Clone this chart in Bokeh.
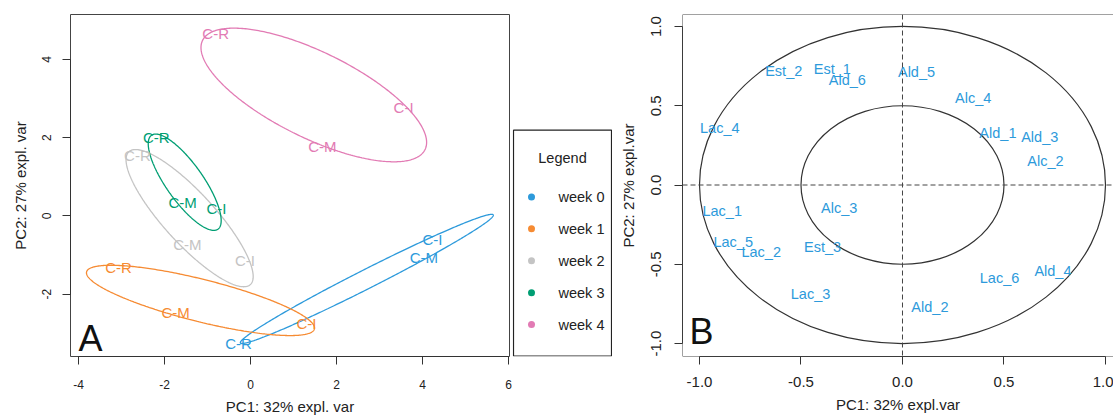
import numpy as np
from bokeh.plotting import figure
from bokeh.layouts import row
from bokeh.models import Range1d, Span, Label, ColumnDataSource, FixedTicker
from bokeh.core.properties import value
from bokeh.embed import file_html
from bokeh.resources import INLINE

FONT = "Liberation Sans"

# ---------------- Panel A data (sample scores) ----------------
weeks = ["week 0", "week 1", "week 2", "week 3", "week 4"]
week_colors = ["#2D9ADB", "#F68B33", "#C4C4C4", "#009E73", "#E27BB4"]

sample_week = [0, 0, 0, 1, 1, 1, 2, 2, 2, 3, 3, 3, 4, 4, 4]
sample_label = ["C-R", "C-I", "C-M", "C-R", "C-M", "C-I", "C-R", "C-M", "C-I",
                "C-R", "C-M", "C-I", "C-R", "C-I", "C-M"]
sample_pc1 = [-0.28, 4.23, 4.03, -3.07, -1.74, 1.30, -2.63, -1.47, -0.13,
              -2.19, -1.58, -0.79, -0.81, 3.56, 1.67]
sample_pc2 = [-3.26, -0.59, -1.07, -1.32, -2.47, -2.74, 1.55, -0.74, -1.15,
              2.01, 0.33, 0.18, 4.66, 2.78, 1.78]

# confidence ellipses per week: centre and two conjugate semi-axis vectors
ell_cx = [2.705, -1.163, -1.416, -1.530, 1.472]
ell_cy = [-1.610, -2.159, -0.057, 0.861, 3.090]
ell_ax = [2.940, 2.649, 1.412, 0.772, 2.586]
ell_ay = [1.636, -0.729, -1.697, -1.200, -1.396]
ell_bx = [0.100, -0.120, -0.438, -0.351, -0.442]
ell_by = [-0.216, -0.524, -0.438, -0.272, -0.983]

a_xticks = [-4, -2, 0, 2, 4, 6]
a_yticks = [-2, 0, 2, 4]
a_xtick_labels = ["-4", "-2", "0", "2", "4", "6"]
a_ytick_labels = ["-2", "0", "2", "4"]

# ---------------- Panel B data (variable correlations) ----------------
var_names = ["Est_2", "Est_1", "Ald_6", "Ald_5", "Alc_4", "Lac_4", "Ald_1", "Ald_3",
             "Alc_2", "Lac_1", "Alc_3", "Lac_5", "Lac_2", "Est_3", "Lac_6", "Ald_4",
             "Lac_3", "Ald_2"]
var_pc1 = [-0.585, -0.346, -0.272, 0.069, 0.348, -0.900, 0.470, 0.676,
           0.704, -0.888, -0.312, -0.834, -0.696, -0.394, 0.478, 0.741,
           -0.453, 0.135]
var_pc2 = [0.717, 0.734, 0.665, 0.713, 0.551, 0.361, 0.325, 0.300,
           0.149, -0.161, -0.147, -0.361, -0.425, -0.394, -0.589, -0.545,
           -0.686, -0.771]
circle_radii = [1.0, 0.5]
b_ticks = [-1.0, -0.5, 0.0, 0.5, 1.0]
b_tick_labels = ["-1.0", "-0.5", "0.0", "0.5", "1.0"]
var_color = "#2D9ADB"

AX = "#333333"
TOP = 14
BOTTOM = 60
H = 417


def style_axis(ax, ticks, labels, size, bounds, tick_out, lab_standoff, title_standoff):
    ax.ticker = FixedTicker(ticks=ticks)
    ax.major_label_overrides = {t: l for t, l in zip(ticks, labels)}
    ax.major_label_text_font = FONT
    ax.major_label_text_font_size = size
    ax.major_label_text_color = "#222222"
    ax.axis_line_color = AX
    ax.major_tick_line_color = AX
    ax.minor_tick_line_color = None
    ax.major_tick_out = tick_out
    ax.major_tick_in = 0
    ax.major_label_standoff = lab_standoff
    ax.axis_label_standoff = title_standoff
    ax.axis_label_text_font = FONT
    ax.axis_label_text_font_size = "15px"
    ax.axis_label_text_font_style = "normal"
    ax.axis_label_text_color = "#222222"
    ax.bounds = bounds


# ---------------- Panel A ----------------
pa = figure(width=512, height=H, x_range=Range1d(-4.186, 6.023), y_range=Range1d(-3.592, 5.146),
            output_backend="svg", toolbar_location=None,
            min_border_left=70, min_border_right=3, min_border_top=TOP, min_border_bottom=BOTTOM)
pa.grid.visible = False
pa.outline_line_color = "#444444"
pa.outline_line_width = 1
pa.xaxis.axis_label = "PC1: 32% expl. var"
pa.yaxis.axis_label = "PC2: 27% expl. var"
style_axis(pa.xaxis[0], a_xticks, a_xtick_labels, "12px", (a_xticks[0], a_xticks[-1]), 8, 15, 6)
style_axis(pa.yaxis[0], a_yticks, a_ytick_labels, "12px", (a_yticks[0], a_yticks[-1]), 8, 11, 11)
pa.yaxis.major_label_orientation = "vertical"

t = np.linspace(0, 2 * np.pi, 361)
for i in range(len(weeks)):
    xs = ell_cx[i] + ell_ax[i] * np.cos(t) + ell_bx[i] * np.sin(t)
    ys = ell_cy[i] + ell_ay[i] * np.cos(t) + ell_by[i] * np.sin(t)
    pa.line(xs, ys, line_color=week_colors[i], line_width=1.3)

src_a = ColumnDataSource(dict(x=sample_pc1, y=sample_pc2, text=sample_label,
                              color=[week_colors[w] for w in sample_week]))
pa.text(x="x", y="y", text="text", text_color="color", source=src_a,
        text_font=value(FONT), text_font_size="15px", text_align="center", text_baseline="middle")

# panel letter near the frame's lower-left corner (offsets in pixels)
pa.add_layout(Label(x=pa.x_range.start + 8 / 43.0, y=pa.y_range.start + 18 / 39.25, text="A",
                    text_font=FONT, text_font_size="36px", text_color="#111111",
                    text_baseline="alphabetic", text_align="left"))

# ---------------- Legend (own small frame, pixel units) ----------------
pl = figure(width=100, height=H, x_range=Range1d(0, 100), y_range=Range1d(0, H - TOP - BOTTOM),
            x_axis_type=None, y_axis_type=None,
            output_backend="svg", toolbar_location=None,
            min_border_left=0, min_border_right=0, min_border_top=TOP, min_border_bottom=BOTTOM)
pl.grid.visible = False
pl.outline_line_color = None
box_top = 227
pl.quad(left=[1], right=[99], bottom=[0.5], top=[box_top], fill_color=None,
        line_color="#222222", line_width=1.2)
leg_y = [box_top - (67 + 32 * i) for i in range(len(weeks))]
pl.scatter(x=[19] * len(weeks), y=leg_y, size=7, color=week_colors, line_color=None)
pl.text(x=[46] * len(weeks), y=leg_y, text=weeks, text_font=value(FONT), text_font_size="14.5px",
        text_color="#222222", text_align="left", text_baseline="middle")
pl.text(x=[50], y=[box_top - 28], text=["Legend"], text_font=value(FONT), text_font_size="14.5px",
        text_color="#222222", text_align="center", text_baseline="middle")

# ---------------- Panel B ----------------
xr_b = Range1d(-1.0837, 1.0394)
yr_b = Range1d(-1.0818, 1.0755)
pb = figure(width=501, height=H, x_range=xr_b, y_range=yr_b,
            output_backend="svg", toolbar_location=None,
            min_border_left=70, min_border_right=0, min_border_top=TOP, min_border_bottom=BOTTOM)
pb.grid.visible = False
# box is cut by the window on the right: draw only left, top and bottom edges
pb.outline_line_color = None
for loc, dim in [(yr_b.start, "width"), (yr_b.end, "width"), (xr_b.start, "height")]:
    pb.add_layout(Span(location=loc, dimension=dim, line_color="#444444", line_width=1))
pb.xaxis.axis_label = "PC1: 32% expl.var"
pb.yaxis.axis_label = "PC2: 27% expl.var"
style_axis(pb.xaxis[0], b_ticks, b_tick_labels, "15px", (b_ticks[0], b_ticks[-1]), 8, 12, 6)
style_axis(pb.yaxis[0], b_ticks, b_tick_labels, "15px", (b_ticks[0], b_ticks[-1]), 8, 13, 12)
pb.yaxis.major_label_orientation = "vertical"

pb.add_layout(Span(location=0, dimension="width", line_color="#444444", line_dash="5 3", line_width=1))
pb.add_layout(Span(location=0, dimension="height", line_color="#444444", line_dash="5 3", line_width=1))
pb.ellipse(x=[0] * len(circle_radii), y=[0] * len(circle_radii),
           width=[2 * r for r in circle_radii], height=[2 * r for r in circle_radii],
           fill_color=None, line_color="#333333", line_width=1.2)
pb.text(x=var_pc1, y=var_pc2, text=var_names, text_color=var_color,
        text_font=value(FONT), text_font_size="14.5px", text_align="center", text_baseline="middle")
pb.add_layout(Label(x=xr_b.start + 7 / 203.0, y=yr_b.start + 25 / 159.0, text="B",
                    text_font=FONT, text_font_size="36px", text_color="#111111",
                    text_baseline="alphabetic", text_align="left"))

layout = row(pa, pl, pb, spacing=0)
open("out.html", "w").write(file_html(layout, INLINE))
